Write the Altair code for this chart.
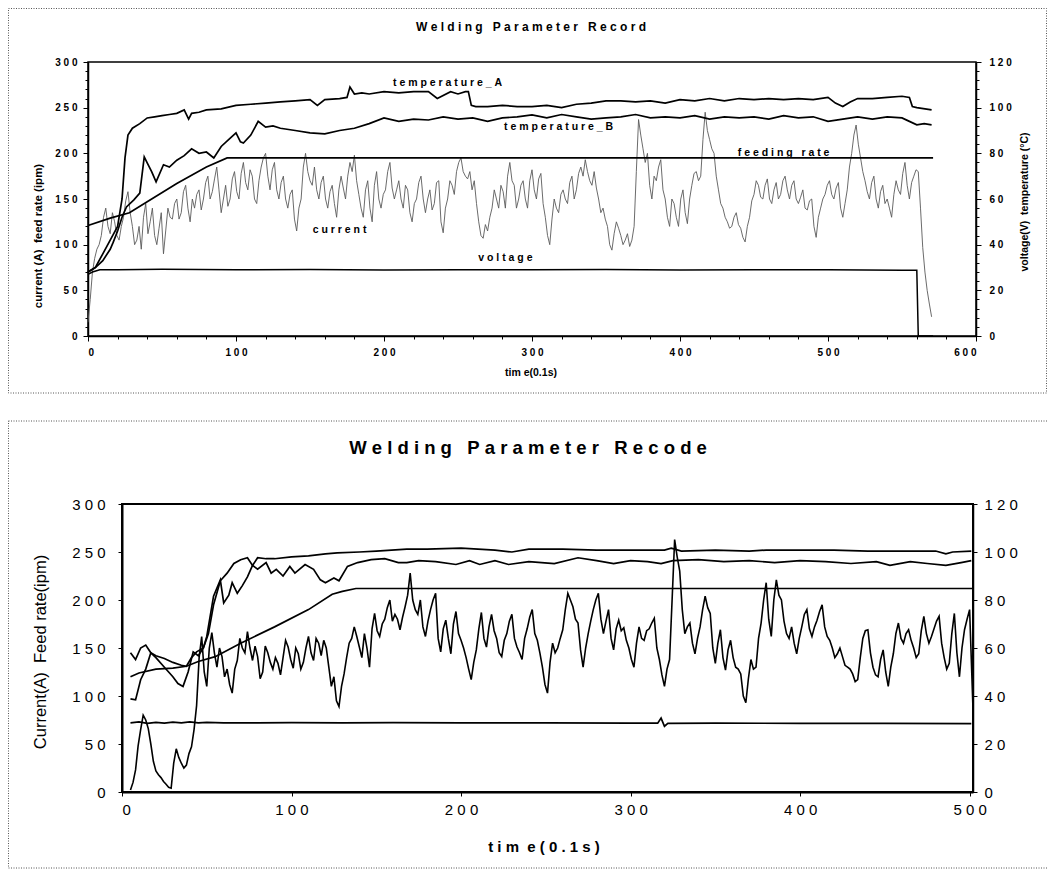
import altair as alt
import pandas as pd

FONT = "Liberation Sans"
NB = "\u00a0"

# ---------------- Top panel : "Welding Parameter Record" ----------------
TOP_TITLE = "Welding Parameter Record"
TOP_XTITLE = "tim e(0.1s)"
TOP_YLTITLE = "current (A)\u00a0\u00a0feed rate (ipm)"
TOP_YRTITLE = "voltage(V)\u00a0\u00a0temperature (\u00b0C)"

# current (A): readings every 3 x 0.1 s from t = 0, and the readings in between
TOP_CURRENT_STEP = 3
TOP_CURRENT = [
    15, 70, 95, 110, 140, 112, 125, 105, 130, 158,
    120, 105, 95, 145, 125, 110, 118, 90, 140, 128,
    150, 135, 165, 125, 140, 160, 150, 175, 158, 185,
    135, 165, 150, 180, 150, 190, 160, 175, 145, 185,
    200, 160, 190, 150, 175, 140, 160, 115, 150, 200,
    170, 185, 150, 175, 140, 165, 130, 175, 150, 190,
    198, 155, 130, 170, 125, 180, 140, 160, 190, 150,
    170, 140, 160, 125, 150, 175, 135, 160, 145, 170,
    113, 150, 165, 180, 195, 175, 180, 170, 125, 107,
    115, 140, 150, 165, 140, 190, 165, 150, 170, 140,
    182, 150, 178, 130, 100, 150, 135, 160, 145, 175,
    160, 185, 193, 170, 180, 150, 140, 120, 94, 125,
    110, 105, 98, 120, 237, 205, 200, 150, 170, 193,
    150, 120, 145, 120, 160, 123, 165, 180, 175, 245,
    215, 200, 160, 140, 125, 120, 135, 118, 103, 130,
    155, 165, 150, 172, 145, 168, 155, 175, 150, 170,
    145, 160, 138, 150, 108, 140, 155, 170, 150, 168,
    130, 160, 200, 231, 195, 170, 150, 175, 140, 165,
    150, 130, 170, 155, 190, 150, 175, 180, 97, 50,
    21,
]
TOP_CURRENT_MID = [
    40, 85, 100, 130, 120, 135, 110, 120, 148, 135,
    100, 120, 130, 112, 140, 100, 135, 115, 130, 145,
    128, 158, 140, 150, 155, 138, 168, 150, 172, 160,
    150, 142, 172, 158, 178, 168, 182, 150, 170, 195,
    175, 182, 160, 168, 150, 155, 128, 140, 185, 180,
    165, 160, 168, 150, 158, 145, 160, 162, 175, 180,
    170, 140, 160, 140, 165, 150, 155, 180, 162, 160,
    150, 165, 135, 145, 168, 150, 150, 138, 168, 125,
    140, 170, 155, 190, 180, 172, 160, 145, 110, 122,
    130, 160, 140, 158, 175, 170, 140, 165, 150, 170,
    160, 172, 145, 110, 128, 140, 155, 150, 168, 150,
    178, 175, 180, 165, 162, 135, 128, 100, 112, 118,
    100, 112, 105, 180, 220, 190, 165, 175, 185, 160,
    130, 150, 130, 150, 135, 150, 178, 170, 215, 225,
    205, 175, 145, 130, 118, 130, 122, 108, 120, 148,
    170, 152, 165, 150, 160, 150, 170, 160, 165, 150,
    152, 140, 148, 120, 130, 150, 165, 155, 162, 140,
    145, 185, 220, 210, 180, 158, 168, 150, 158, 145,
    140, 155, 160, 178, 165, 168, 182, 140, 70, 35,
]

# feeding rate (ipm)
TOP_FEED_T = [0, 15, 28, 40, 60, 80, 94, 571]
TOP_FEED = [121, 129, 135, 147, 167, 185, 195, 195]

# voltage (V)
TOP_VOLT_T = [0, 3, 8, 20, 50, 100, 150, 200, 250, 300, 350, 400, 450, 500, 550, 560, 561, 571]
TOP_VOLT = [27, 28, 29, 29, 29.2, 29, 29.1, 28.9, 29, 29, 29.1, 28.9, 29, 29, 28.8, 28.8, 0, 0]

# temperature_A (deg C)
TOP_TA_T = [0, 5, 10, 15, 20, 23, 25, 27, 30, 35,
            40, 45, 50, 55, 60, 65, 68, 70, 75, 80,
            90, 100, 110, 120, 130, 140, 150, 155, 160, 170,
            175, 177, 180, 185, 190, 200, 210, 220, 230, 236,
            245, 250, 255, 257, 259, 262, 270, 280, 290, 300,
            310, 320, 330, 340, 350, 360, 370, 380, 390, 400,
            410, 420, 430, 440, 450, 460, 470, 480, 490, 500,
            505, 510, 515, 520, 530, 540, 550, 555, 557, 560,
            570]
TOP_TA = [28, 30, 36, 42, 48, 60, 78, 88, 91, 93,
          95.5, 96, 96.5, 97, 97.5, 99, 95, 97.5, 98, 99,
          99.5, 101, 101.5, 102, 102.5, 103, 103.5, 101, 103.5, 104,
          104.5, 109, 106, 106.5, 106, 107, 106.5, 107, 107, 104,
          107, 106, 107, 107, 101, 100.5, 100.5, 101, 100.5, 100.5,
          101, 100, 101.5, 102, 103, 103, 102.5, 103, 102, 103.5,
          103, 104, 103, 104, 103.5, 104, 103.5, 104, 103.5, 104.5,
          102, 100.5, 102.5, 104, 104, 104.5, 105, 104.5, 100.5, 100,
          99]

# temperature_B (deg C)
TOP_TB_T = [0, 5, 10, 15, 17, 20, 23, 26, 31, 35,
            38, 40, 43, 46, 51, 55, 60, 65, 70, 75,
            80, 85, 90, 95, 100, 103, 105, 110, 115, 120,
            125, 130, 140, 150, 160, 170, 180, 190, 200, 210,
            220, 230, 240, 250, 260, 270, 280, 290, 300, 310,
            320, 330, 340, 350, 360, 370, 380, 390, 400, 410,
            420, 430, 440, 450, 460, 470, 480, 490, 500, 510,
            520, 530, 540, 550, 555, 560, 565, 570]
TOP_TB = [28, 30, 33, 38, 41, 46, 52, 56.5, 59.6, 62.6,
          78.4, 75.8, 72, 67.5, 75, 74, 77, 79, 82, 80,
          80.6, 78, 83, 86, 89, 85, 84.5, 88, 94, 91.5,
          92, 91, 90, 89, 88.5, 90, 91, 93, 95.5, 94,
          95, 94.6, 96, 95, 95.5, 94, 95.5, 96, 96.8, 95.5,
          97, 96, 95, 95.5, 96, 97, 95.5, 96, 95.5, 96.5,
          95, 96, 95.5, 96, 95, 96.5, 95.5, 96, 94, 95,
          96, 95, 96, 95.5, 94, 92.5, 93, 92.5]

# in-plot labels (anchored in time / current units)
TOP_LABELS = ["temperature_A", "temperature_B", "feeding rate", "current", "voltage"]
TOP_LABEL_T = [243, 318, 470, 170, 282]
TOP_LABEL_V = [277, 229, 200, 116, 85]

# ---------------- Bottom panel : "Welding Parameter Recode" ----------------
BOT_TITLE = "Welding Parameter Recode"
BOT_XTITLE = "tim e(0.1s)"
BOT_YLTITLE = "Current(A)\u00a0\u00a0Feed rate(ipm)"

BOT_CURRENT_START = 5
BOT_CURRENT_STEP = 3
BOT_CURRENT = [
    2, 23, 65, 75, 50, 22, 15, 8, 4, 45,
    30, 28, 47, 90, 162, 110, 166, 130, 141, 128,
    103, 137, 150, 167, 137, 141, 125, 145, 128, 134,
    140, 151, 129, 144, 135, 162, 137, 155, 158, 130,
    120, 89, 123, 155, 172, 151, 165, 130, 186, 162,
    180, 200, 185, 169, 193, 228, 190, 200, 162, 190,
    207, 146, 179, 144, 188, 158, 140, 117, 148, 187,
    151, 185, 160, 141, 165, 185, 151, 138, 170, 190,
    158, 130, 103, 155, 150, 169, 207, 193, 176, 130,
    165, 190, 207, 165, 190, 148, 179, 171, 150, 130,
    172, 158, 170, 181, 138, 110, 138, 263, 230, 165,
    176, 144, 172, 204, 186, 134, 169, 127, 158, 130,
    123, 93, 138, 130, 176, 218, 162, 221, 200, 165,
    172, 144, 172, 190, 162, 179, 195, 162, 150, 144,
    141, 130, 123, 117, 160, 169, 130, 120, 148, 110,
    144, 176, 155, 169, 150, 144, 183, 155, 170, 183,
    140, 134, 186, 120, 169, 190,
]
BOT_CURRENT_MID = [
    10, 48, 80, 66, 32, 18, 11, 5, 30, 36,
    25, 40, 65, 140, 125, 150, 145, 150, 120, 112,
    128, 160, 145, 150, 152, 118, 152, 135, 140, 122,
    158, 138, 150, 128, 150, 145, 160, 142, 150, 110,
    95, 110, 140, 160, 162, 140, 150, 170, 168, 175,
    192, 178, 180, 182, 205, 200, 185, 172, 178, 200,
    160, 170, 160, 175, 165, 150, 128, 135, 170, 160,
    172, 168, 145, 158, 178, 160, 145, 160, 182, 165,
    145, 112, 135, 145, 160, 190, 200, 180, 148, 150,
    178, 200, 180, 178, 160, 170, 168, 158, 138, 155,
    160, 168, 176, 150, 122, 128, 200, 245, 190, 172,
    155, 160, 190, 192, 150, 155, 140, 148, 140, 128,
    100, 118, 128, 160, 200, 180, 200, 205, 178, 160,
    155, 160, 185, 170, 172, 188, 172, 158, 140, 150,
    132, 128, 115, 140, 168, 145, 122, 138, 125, 130,
    165, 160, 165, 158, 140, 168, 165, 162, 178, 155,
    128, 165, 145, 150, 180,
]
BOT_CURRENT_END_T = 502
BOT_CURRENT_END = 86

BOT_FEED_T = [5, 10, 20, 30, 38, 45, 55, 70, 90, 110, 124, 130, 138, 502]
BOT_FEED = [120, 124, 128, 129, 131, 136, 141, 155, 172, 190, 206, 209, 212, 212]

BOT_VOLT_T = [5, 10, 15, 20, 25, 30, 35, 40, 45, 50,
              60, 80, 100, 130, 160, 200, 250, 300, 316, 318,
              320, 322, 350, 400, 450, 501]
BOT_VOLT = [28.8, 29.2, 28.6, 29.0, 28.7, 29.1, 28.8, 29.2, 28.8, 29.0,
            28.8, 28.8, 28.9, 28.8, 28.9, 28.8, 28.8, 28.7, 28.7, 30.8,
            27.4, 28.6, 28.7, 28.6, 28.6, 28.5]

BOT_TA_T = [5, 8, 11, 14, 17, 20, 25, 30, 35, 38,
            41, 44, 48, 51, 54, 58, 62, 66, 70, 74,
            77, 80, 85, 90, 100, 110, 120, 127, 140, 150,
            168, 180, 200, 220, 230, 240, 260, 280, 300, 320,
            324, 330, 350, 370, 380, 400, 420, 440, 460, 480,
            486, 490, 501]
BOT_TA = [58.0, 55.2, 60.0, 61.2, 58.0, 56.8, 55.6, 54.0, 52.8, 52.4,
          56.0, 58.4, 60.0, 66.0, 78.0, 88.0, 91.2, 95.2, 96.8, 97.6,
          94.4, 97.6, 97.2, 97.2, 98.0, 98.4, 99.2, 99.6, 100.0, 100.4,
          101.2, 101.2, 101.6, 100.8, 100.0, 101.2, 101.2, 100.8, 100.8, 100.8,
          101.6, 100.4, 100.8, 100.4, 100.8, 100.8, 100.8, 100.4, 100.4, 100.4,
          99.2, 100.0, 100.4]

BOT_TB_T = [5, 8, 11, 14, 17, 20, 25, 30, 33, 36,
            39, 42, 45, 48, 50, 54, 58, 60, 63, 65,
            68, 71, 74, 77, 80, 85, 88, 91, 95, 99,
            102, 108, 113, 117, 120, 125, 128, 133, 139, 147,
            155, 163, 168, 175, 185, 197, 205, 211, 220, 228,
            240, 255, 269, 280, 290, 300, 310, 318, 325, 340,
            355, 370, 385, 400, 415, 430, 445, 453, 465, 475,
            486, 495, 501]
BOT_TB = [38.8, 38.4, 46.8, 51.2, 58.0, 56.0, 52.0, 48.0, 45.2, 44.0,
          50.0, 58.4, 56.8, 60.0, 64.8, 81.6, 88.4, 78.8, 82.0, 87.2,
          82.8, 86.0, 89.6, 94.4, 92.8, 95.6, 91.2, 92.8, 90.0, 94.0,
          91.2, 94.8, 92.8, 88.4, 87.2, 89.2, 88.0, 94.0, 95.6, 96.8,
          97.2, 95.6, 95.6, 96.4, 96.0, 94.8, 96.4, 94.8, 96.4, 94.8,
          96.0, 95.2, 97.6, 96.4, 95.2, 96.4, 96.0, 95.2, 96.4, 96.8,
          96.0, 96.4, 95.6, 96.4, 96.0, 95.2, 96.0, 94.4, 96.0, 95.2,
          94.4, 95.6, 96.4]


# ---------------- tables ----------------
def interleave(main, mid):
    out = []
    for i, v in enumerate(main):
        out.append(v)
        if i < len(mid):
            out.append(mid[i])
    return out


def spaced(s, sep=NB, gap=NB):
    # letter-spaced text; each word gap is widened by `gap`
    return (sep + gap + sep).join(sep.join(w) for w in s.split(" "))


top_cur_v = interleave(TOP_CURRENT, TOP_CURRENT_MID)
top_cur = pd.DataFrame({"t": [i * TOP_CURRENT_STEP / 2 for i in range(len(top_cur_v))], "v": top_cur_v})
top_feed = pd.DataFrame({"t": TOP_FEED_T, "v": TOP_FEED})
top_temp = pd.concat([
    pd.DataFrame({"t": TOP_TA_T, "v": TOP_TA, "s": "temperature_A"}),
    pd.DataFrame({"t": TOP_TB_T, "v": TOP_TB, "s": "temperature_B"}),
])
top_volt = pd.DataFrame({"t": TOP_VOLT_T, "v": TOP_VOLT})
top_lab = pd.DataFrame({"t": TOP_LABEL_T, "v": TOP_LABEL_V,
                        "label": [spaced(s) for s in TOP_LABELS]})

bot_cur_v = interleave(BOT_CURRENT, BOT_CURRENT_MID)
bot_cur = pd.DataFrame({
    "t": [BOT_CURRENT_START + i * BOT_CURRENT_STEP / 2 for i in range(len(bot_cur_v))] + [BOT_CURRENT_END_T],
    "v": bot_cur_v + [BOT_CURRENT_END],
})
bot_feed = pd.DataFrame({"t": BOT_FEED_T, "v": BOT_FEED})
bot_right = pd.concat([
    pd.DataFrame({"t": BOT_TA_T, "v": BOT_TA, "s": "temperature_A"}),
    pd.DataFrame({"t": BOT_TB_T, "v": BOT_TB, "s": "temperature_B"}),
    pd.DataFrame({"t": BOT_VOLT_T, "v": BOT_VOLT, "s": "voltage"}),
])
one = pd.DataFrame({"k": [0]})

# ---------------- layout (canvas pixels) ----------------
W, H = 1039, 861
TOP_X = ([0, 600], [80, 968])
TOP_YL = ([0, 300], [328, 54])
TOP_YR = ([0, 120], [328, 54])
BOT_X = ([0, 502], [114, 965])
BOT_YL = ([0, 300], [784, 496])
BOT_YR = ([0, 120], [784, 496])


def sc(s):
    return alt.Scale(domain=s[0], range=s[1], nice=False, zero=False)


def ax(orient, offset, values, size, bold, tick, pad, labels=True, domain=True, sep=" ", dw=1.5):
    kw = dict(orient=orient, offset=offset, values=values, title=None, grid=False,
              tickSize=tick, tickColor="black", tickWidth=1, domain=domain,
              domainColor="black", domainWidth=dw, labels=labels)
    if labels:
        kw.update(labelFont=FONT, labelFontSize=size, labelFontWeight="bold" if bold else "normal",
                  labelColor="black", labelPadding=pad,
                  labelExpr="join(split(datum.label, ''), '" + sep + "')")
    return alt.Axis(**kw)


def xenc(s, axis=None):
    return alt.X("t:Q", scale=sc(s), axis=axis)


def yenc(s, axis=None):
    return alt.Y("v:Q", scale=sc(s), axis=axis)


def text_at(s, px, py, size, bold=True, angle=0):
    return alt.Chart(pd.DataFrame({"label": [s]})).mark_text(
        font=FONT, fontSize=size, fontWeight="bold" if bold else "normal",
        align="center", baseline="middle", angle=angle, color="black"
    ).encode(x=alt.value(px), y=alt.value(py), text="label:N")


def frame(x1, x2, y1, y2):
    return alt.Chart(one).mark_rect(fillOpacity=0, stroke="#555", strokeWidth=1,
                                    strokeDash=[1, 1.5]).encode(
        x=alt.value(x1), x2=alt.value(x2), y=alt.value(y1), y2=alt.value(y2))


def box(xs, ys, xmax, ymax, xaxis=None, yaxis=None, width=1.5):
    return alt.Chart(one).mark_rect(fillOpacity=0, stroke="black", strokeWidth=width).encode(
        x=alt.X(datum=0, type="quantitative", scale=sc(xs), axis=xaxis),
        x2=alt.X2(datum=xmax),
        y=alt.Y(datum=0, type="quantitative", scale=sc(ys), axis=yaxis),
        y2=alt.Y2(datum=ymax),
    )


# ---------------- top panel layers ----------------
top_layers = [
    frame(0.5, 1038.5, 0.5, 385),
    box(TOP_X, TOP_YL, 600, 300,
        xaxis=ax("bottom", 328 - H, list(range(0, 601, 20)), 10, True, 3, 0, labels=False, domain=False),
        yaxis=ax("left", -80, list(range(0, 301, 10)), 10, True, 3, 0, labels=False, domain=False)),
    alt.Chart(top_cur).mark_line(color="#5a5a5a", strokeWidth=0.9).encode(
        x=xenc(TOP_X), y=yenc(TOP_YL)),
    alt.Chart(top_feed).mark_line(color="black", strokeWidth=1.7).encode(
        x=xenc(TOP_X, ax("bottom", 328 - H, list(range(0, 601, 100)), 10, True, 5, 6)),
        y=yenc(TOP_YL, ax("left", -80, list(range(0, 301, 50)), 10, True, 5, 6))),
    alt.Chart(top_temp).mark_line(color="black", strokeWidth=1.7).encode(
        x=xenc(TOP_X), y=yenc(TOP_YR, ax("right", 968 - W, list(range(0, 121, 20)), 10, True, 5, 8)),
        detail="s:N"),
    alt.Chart(top_volt).mark_line(color="black", strokeWidth=1.5).encode(
        x=xenc(TOP_X), y=yenc(TOP_YR, ax("right", 968 - W, list(range(0, 121, 4)), 10, True, 3, 0,
                                        labels=False, domain=False))),
    alt.Chart(top_lab).mark_text(font=FONT, fontSize=10.5, fontWeight="bold", color="black",
                                 align="center", baseline="middle").encode(
        x=xenc(TOP_X), y=alt.Y("v:Q", scale=sc(TOP_YL), axis=None), text="label:N"),
    text_at(spaced(TOP_TITLE), 523, 19, 12),
    text_at(TOP_XTITLE.replace(" ", NB), 523, 365, 10.5),
    text_at(TOP_YLTITLE, 31, 228, 11.5, angle=270),
    text_at(TOP_YRTITLE, 1017, 194, 10.5, angle=270),
]

# ---------------- bottom panel layers ----------------
bot_layers = [
    frame(0.5, 1060, 413, 860),
    box(BOT_X, BOT_YL, 502, 300, width=2),
    alt.Chart(bot_right).mark_line(color="black", strokeWidth=1.7).encode(
        x=xenc(BOT_X), y=yenc(BOT_YR, ax("right", 965 - W, list(range(0, 121, 20)), 15, False, 4, 7)),
        detail="s:N"),
    alt.Chart(bot_feed).mark_line(color="black", strokeWidth=1.7).encode(
        x=xenc(BOT_X, ax("bottom", 784 - H, list(range(0, 501, 100)), 15, False, 4, 6, dw=2)),
        y=yenc(BOT_YL, ax("left", -114, list(range(0, 301, 50)), 15, False, 4, 13, dw=2))),
    alt.Chart(bot_cur).mark_line(color="black", strokeWidth=1.6).encode(
        x=xenc(BOT_X), y=yenc(BOT_YL)),
    text_at(spaced(BOT_TITLE), 520, 440, 18.5),
    text_at(spaced(BOT_XTITLE, gap=""), 536, 839, 15),
    text_at(BOT_YLTITLE, 33, 644, 16.5, bold=False, angle=270),
]

chart = alt.layer(*top_layers, *bot_layers).resolve_scale(
    x="independent", y="independent"
).properties(
    width=W, height=H, padding=0, autosize=alt.AutoSizeParams(type="none")
).configure_view(strokeWidth=0)

chart.save("out.html", embed_options={"renderer": "svg", "actions": False})
